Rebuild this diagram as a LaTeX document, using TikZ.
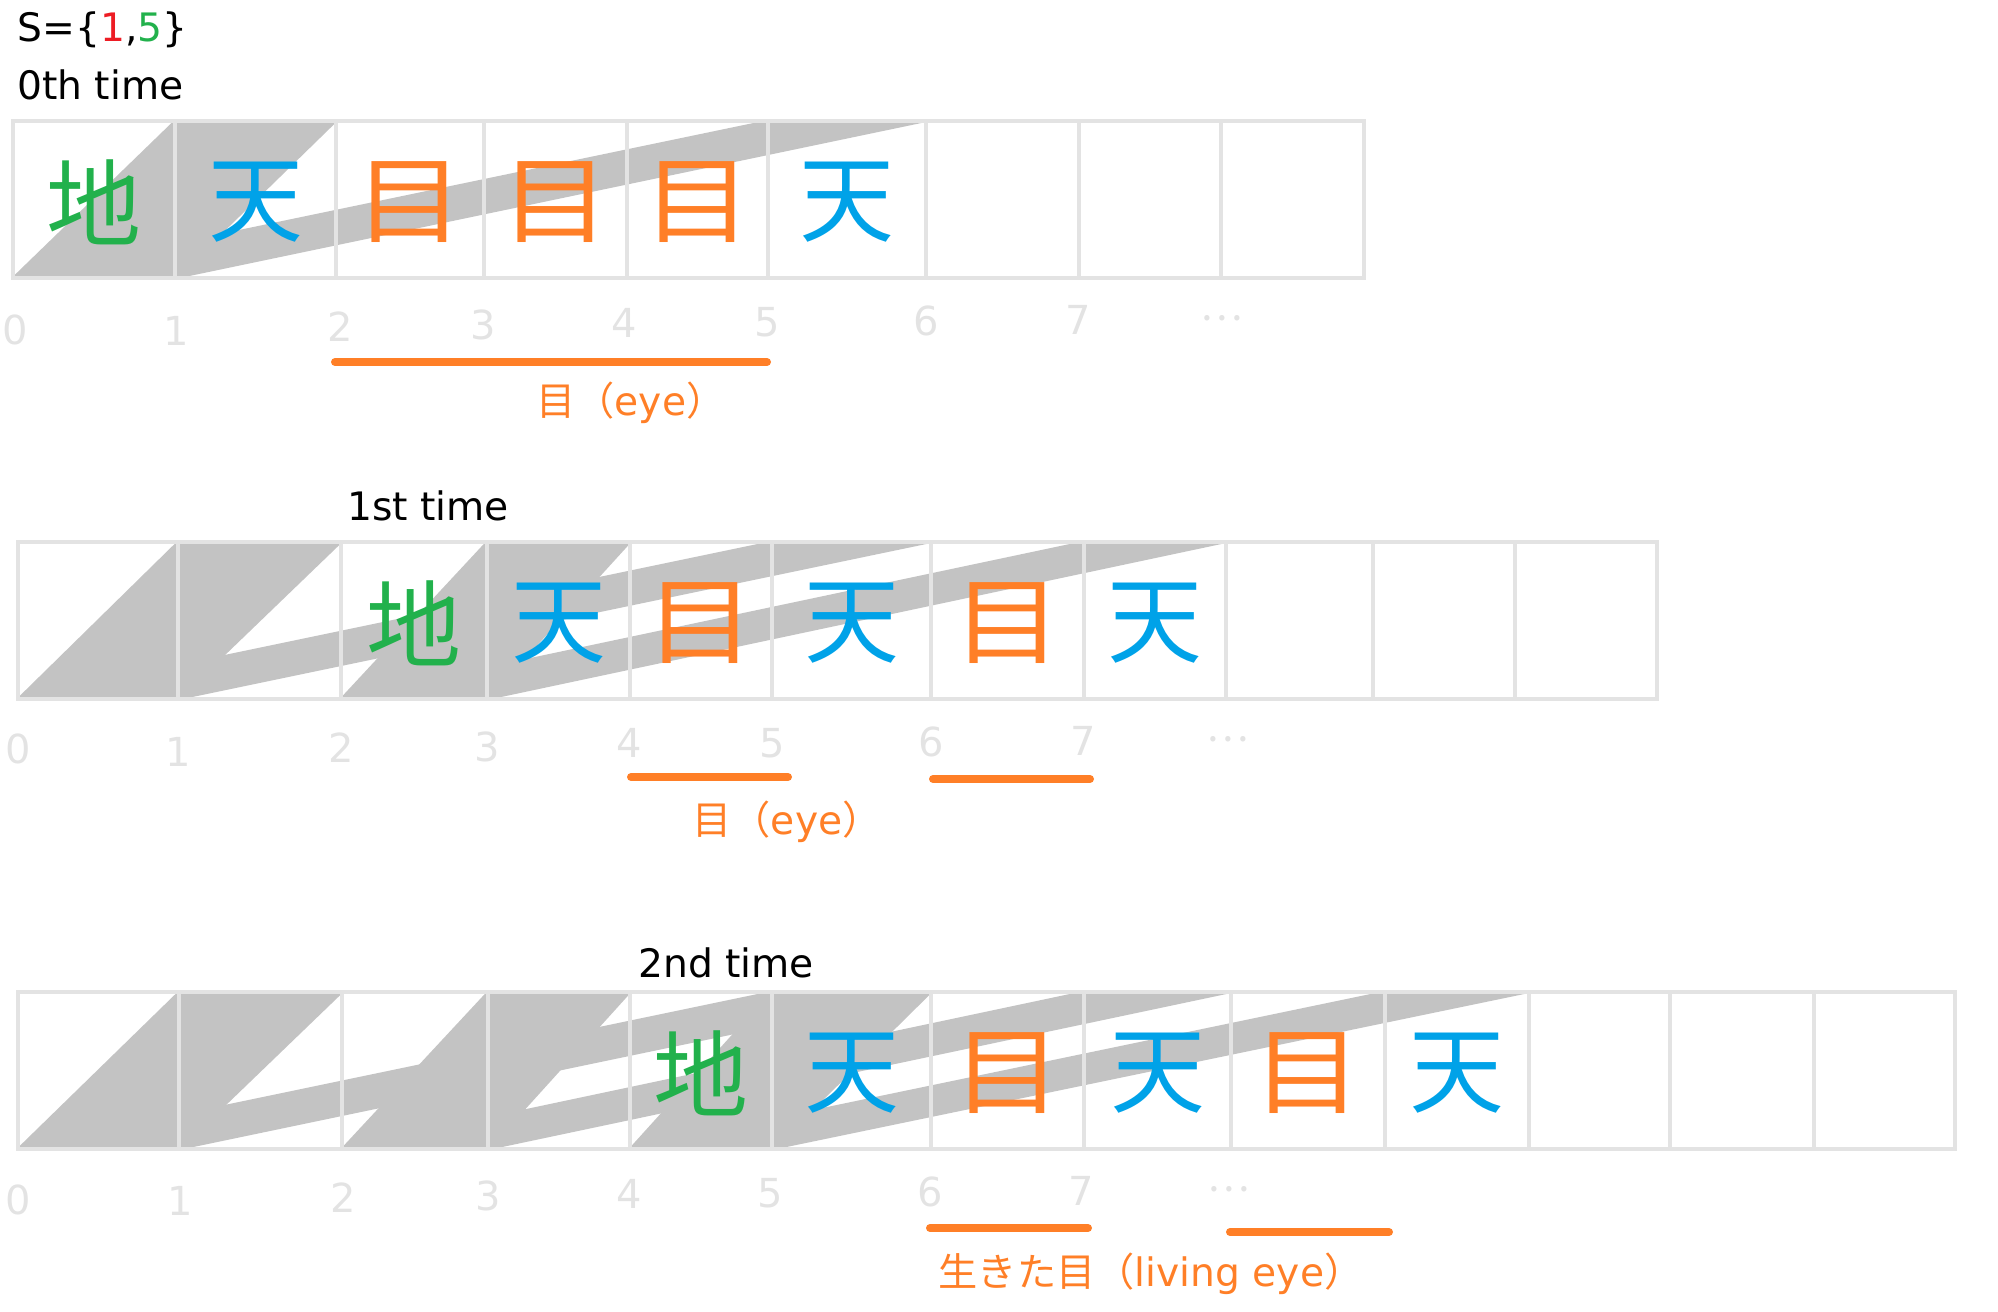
\documentclass[tikz,border=0pt]{standalone}
\usepackage{fontspec}
\setmainfont{DejaVu Sans}
\newfontfamily\cjk{Noto Sans CJK JP}
\usetikzlibrary{calc}
\definecolor{gridc}{HTML}{E3E3E3}
\definecolor{idxc}{HTML}{E3E3E3}
\definecolor{bandc}{HTML}{C3C3C3}
\definecolor{tgreen}{HTML}{22B14C}
\definecolor{tblue}{HTML}{00A2E8}
\definecolor{torange}{HTML}{FF7F27}
\definecolor{tred}{HTML}{ED1C24}
\newcommand{\meglyph}{\scalebox{1.16}[1]{目}}
\begin{document}
\begin{tikzpicture}[x=0.5pt,y=-0.5pt,
  band/.style={fill=bandc,draw=bandc,line width=1pt,line join=round},
  gridline/.style={draw=gridc,line width=2pt},
  cellchar/.style={inner sep=0pt,yshift=-1.5pt,font=\cjk\fontsize{47.5}{52}\selectfont},
  chichar/.style={cellchar,text=tgreen},
  tenchar/.style={cellchar,text=tblue},
  mechar/.style={cellchar,text=torange},
  idx/.style={inner sep=0pt,text=idxc,font=\fontsize{20}{24}\selectfont},
  dots/.style={inner sep=0pt,text=idxc,font=\cjk\fontsize{20}{24}\selectfont},
  title/.style={inner sep=0pt,anchor=base west,font=\fontsize{19.6}{23}\selectfont},
  eyelabel/.style={inner sep=0pt,text=torange,font=\fontsize{19.6}{23}\selectfont},
  eyeline/.style={draw=torange,line width=4pt,line cap=round}
]
\useasboundingbox (0,0) rectangle (1998,1312);

% ---------- grid coordinates ----------
\foreach \x [count=\i from 0] in {13,175,336,484,627,768,926,1079,1221,1364}{
  \coordinate (at\i) at (\x,121); \coordinate (ab\i) at (\x,278);}
\foreach \x [count=\i from 0] in {18,178,341,487,630,772,931,1084,1226,1373,1515,1657}{
  \coordinate (bt\i) at (\x,542); \coordinate (bb\i) at (\x,699);}
\foreach \x [count=\i from 0] in {18,179,342,488,630,772,931,1084,1231,1385,1529,1670,1814,1955}{
  \coordinate (ct\i) at (\x,992); \coordinate (cb\i) at (\x,1149);}

% ---------- grey jumps ----------
% row 0
\path[band] (ab0) -- (at1) -- (at2) -- (ab1) -- cycle;
\path[band] (ab0) -- (at5) -- (at6) -- (ab1) -- cycle;
% row 1
\path[band] (bb0) -- (bt1) -- (bt2) -- (bb1) -- cycle;
\path[band] (bb0) -- (bt5) -- (bt6) -- (bb1) -- cycle;
\path[band] (bb2) -- (bt3) -- (bt4) -- (bb3) -- cycle;
\path[band] (bb2) -- (bt7) -- (bt8) -- (bb3) -- cycle;
% row 2
\path[band] (cb0) -- (ct1) -- (ct2) -- (cb1) -- cycle;
\path[band] (cb0) -- (ct5) -- (ct6) -- (cb1) -- cycle;
\path[band] (cb2) -- (ct3) -- (ct4) -- (cb3) -- cycle;
\path[band] (cb2) -- (ct7) -- (ct8) -- (cb3) -- cycle;
\path[band] (cb4) -- (ct5) -- (ct6) -- (cb5) -- cycle;
\path[band] (cb4) -- (ct9) -- (ct10) -- (cb5) -- cycle;

% ---------- grids ----------
\draw[gridline] (at0) rectangle (ab9);
\foreach \i in {1,...,8} \draw[gridline] (at\i) -- (ab\i);
\draw[gridline] (bt0) rectangle (bb11);
\foreach \i in {1,...,10} \draw[gridline] (bt\i) -- (bb\i);
\draw[gridline] (ct0) rectangle (cb13);
\foreach \i in {1,...,12} \draw[gridline] (ct\i) -- (cb\i);

% ---------- cell characters ----------
\node[chichar] (a0) at ($(at0)!.5!(ab1)$) {地};
\node[tenchar] (a1) at ($(at1)!.5!(ab2)$) {天};
\node[mechar]  (a2) at ($(at2)!.5!(ab3)$) {\meglyph};
\node[mechar]  (a3) at ($(at3)!.5!(ab4)$) {\meglyph};
\node[mechar]  (a4) at ($(at4)!.5!(ab5)$) {\meglyph};
\node[tenchar] (a5) at ($(at5)!.5!(ab6)$) {天};

\node[chichar] (b2) at ($(bt2)!.5!(bb3)$) {地};
\node[tenchar] (b3) at ($(bt3)!.5!(bb4)$) {天};
\node[mechar]  (b4) at ($(bt4)!.5!(bb5)$) {\meglyph};
\node[tenchar] (b5) at ($(bt5)!.5!(bb6)$) {天};
\node[mechar]  (b6) at ($(bt6)!.5!(bb7)$) {\meglyph};
\node[tenchar] (b7) at ($(bt7)!.5!(bb8)$) {天};

\node[chichar] (c4) at ($(ct4)!.5!(cb5)$) {地};
\node[tenchar] (c5) at ($(ct5)!.5!(cb6)$) {天};
\node[mechar]  (c6) at ($(ct6)!.5!(cb7)$) {\meglyph};
\node[tenchar] (c7) at ($(ct7)!.5!(cb8)$) {天};
\node[mechar]  (c8) at ($(ct8)!.5!(cb9)$) {\meglyph};
\node[tenchar] (c9) at ($(ct9)!.5!(cb10)$) {天};

% ---------- indices ----------
\node[idx] (ai0) at (15,330) {0};
\node[idx] (ai1) at (176,331) {1};
\node[idx] (ai2) at (340,327) {2};
\node[idx] (ai3) at (483,325) {3};
\node[idx] (ai4) at (624,323) {4};
\node[idx] (ai5) at (767,322) {5};
\node[idx] (ai6) at (926,321) {6};
\node[idx] (ai7) at (1078,320) {7};
\node[dots] (ai8) at (1222,318) {…};

\node[idx] (bi0) at (18,749) {0};
\node[idx] (bi1) at (178,752) {1};
\node[idx] (bi2) at (341,748) {2};
\node[idx] (bi3) at (487,747) {3};
\node[idx] (bi4) at (629,743) {4};
\node[idx] (bi5) at (772,743) {5};
\node[idx] (bi6) at (931,742) {6};
\node[idx] (bi7) at (1083,741) {7};
\node[dots] (bi8) at (1228,739) {…};

\node[idx] (ci0) at (18,1200) {0};
\node[idx] (ci1) at (180,1201) {1};
\node[idx] (ci2) at (343,1198) {2};
\node[idx] (ci3) at (488,1196) {3};
\node[idx] (ci4) at (629,1194) {4};
\node[idx] (ci5) at (770,1193) {5};
\node[idx] (ci6) at (930,1192) {6};
\node[idx] (ci7) at (1081,1191) {7};
\node[dots] (ci8) at (1229,1189) {…};

% ---------- eye underlines and labels ----------
\draw[eyeline] (335,362) -- (767,362);
\node[eyelabel] (l0) at (631,403) {{\cjk 目（}eye{\cjk ）}};

\draw[eyeline] (631,777) -- (788,777);
\draw[eyeline] (933,779) -- (1090,779);
\node[eyelabel] (l1) at (787,822) {{\cjk 目（}eye{\cjk ）}};

\draw[eyeline] (930,1228) -- (1088,1228);
\draw[eyeline] (1230,1232) -- (1389,1232);
\node[eyelabel] (l2) at (1151,1274) {{\cjk 生きた目（}living eye{\cjk ）}};

% ---------- titles ----------
\node[title] (s)  at (17,41)  {S=\{{\color{tred}1},{\color{tgreen}5}\}};
\node[title] (t0) at (17,99)  {0th time};
\node[title] (t1) at (347,520) {1st time};
\node[title] (t2) at (638,977) {2nd time};
\end{tikzpicture}
\end{document}
